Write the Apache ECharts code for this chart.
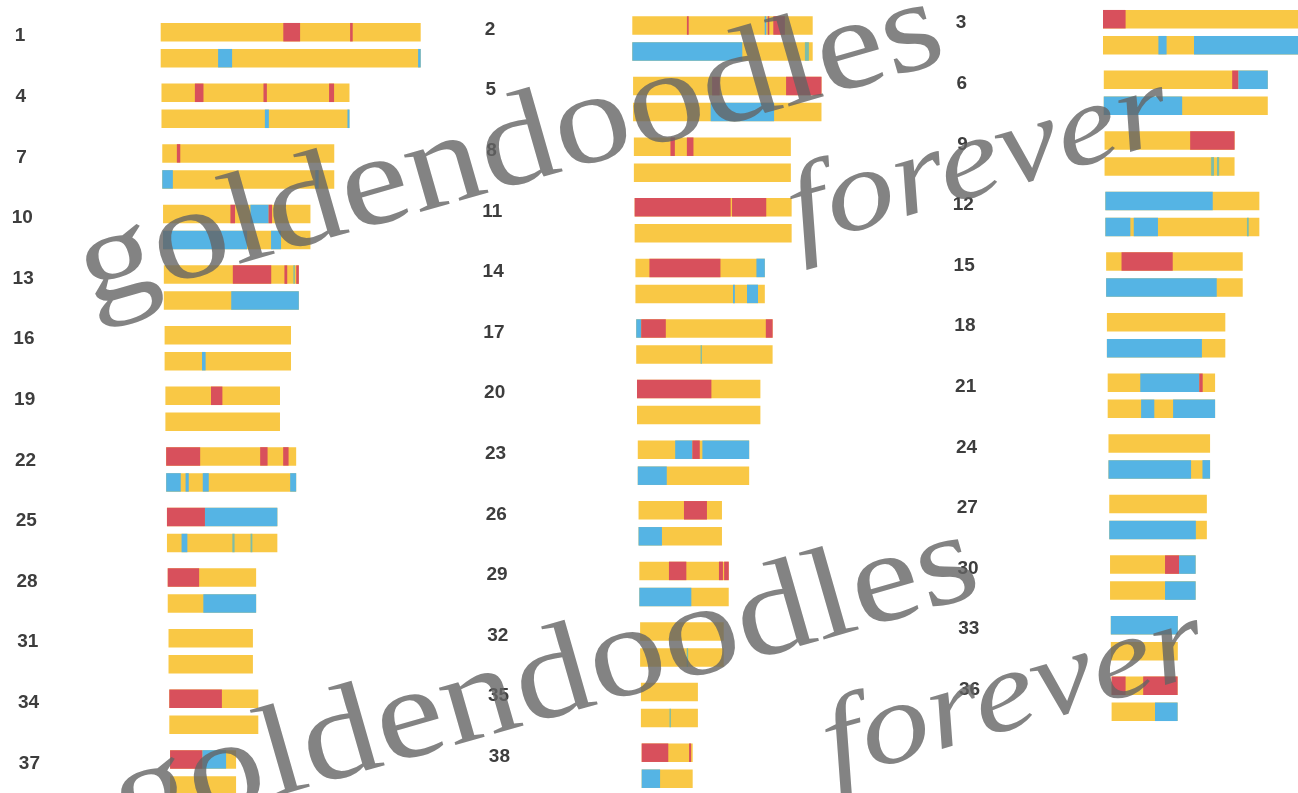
<!DOCTYPE html>
<html><head><meta charset="utf-8">
<script src="https://cdn.jsdelivr.net/npm/echarts@6/dist/echarts.min.js"></script>
<style>html,body{margin:0;padding:0;background:#fff}#c{width:1298px;height:793px}</style>
</head><body><div id="c"></div>
<script>
// Chromosome numbers (categories)
const chromosomes = [1,2,3,4,5,6,7,8,9,10,11,12,13,14,15,16,17,18,19,20,21,22,23,24,25,26,27,28,29,30,31,32,33,34,35,36,37,38];
// Chromosome lengths (Mb, approx.)
const chromLengths = [130,90.2,97.5,94,94.2,82,86,78.5,65,73.7,78.5,77,67.5,64.7,68.3,63.2,68.2,59.2,57.3,61.7,53.7,65,55.7,50.8,55.2,41.7,48.8,44.2,44.7,42.8,42.2,41.8,33.5,44.5,28.5,33,33,25.5];
// Non-yellow ancestry segments on the first (upper) haplotype: [start, end, ancestry]
const topSegments = [
  [[61.3,69.7,'R'],[94.7,96,'R']],
  [[27.3,28.2,'R'],[66.2,67,'B'],[67.7,68.5,'R'],[70.5,76.3,'R']],
  [[0,11.3,'R']],
  [[16.7,21,'R'],[51,52.7,'R'],[83.8,86.3,'R']],
  [[39.5,43.3,'R'],[76.5,94.2,'R']],
  [[64.2,67.3,'R'],[67.3,82,'B']],
  [[7.3,9,'R']],
  [[18.3,20.5,'R'],[26.5,29.8,'R']],
  [[42.8,65,'R']],
  [[33.7,36,'R'],[43.7,52.8,'B'],[52.8,54.5,'R']],
  [[0,48,'R'],[48.7,65.8,'R']],
  [[0,53.7,'B']],
  [[34.5,53.7,'R'],[60.3,61.7,'R'],[64.8,65.5,'G'],[66.2,67.5,'R']],
  [[7,42.5,'R'],[60.5,64.7,'B']],
  [[7.7,33.3,'R']],
  [],
  [[0,2.5,'B'],[2.5,14.8,'R'],[64.8,68.2,'R']],
  [],
  [[22.8,28.5,'R']],
  [[0,37.2,'R']],
  [[16.3,45.8,'B'],[45.8,47.5,'R']],
  [[0,17,'R'],[47,50.7,'R'],[58.5,61.2,'R']],
  [[18.7,27.3,'B'],[27.3,31,'R'],[32.3,55.7,'B']],
  [],
  [[0,19,'R'],[19,55.2,'B']],
  [[22.7,34.2,'R']],
  [],
  [[0,15.7,'R']],
  [[14.8,23.5,'R'],[39.8,41.8,'R'],[42.4,44.7,'R']],
  [[27.5,34.5,'R'],[34.5,42.8,'B']],
  [],
  [],
  [[0,33.5,'B']],
  [[0,26.3,'R']],
  [],
  [[0,7,'R'],[15.8,33,'R']],
  [[0,16.2,'R'],[16.2,28,'B']],
  [[0,13.3,'R'],[23.7,24.7,'R']]
];
// Non-yellow ancestry segments on the second (lower) haplotype
const bottomSegments = [
  [[28.7,35.7,'B'],[128.7,130,'B']],
  [[0,55,'B'],[86.3,88.3,'G']],
  [[27.7,31.8,'B'],[45.5,97.5,'B']],
  [[51.7,53.7,'B'],[93,94,'B']],
  [[38.8,70.5,'B']],
  [[0,39.2,'B']],
  [[0,5.3,'B'],[76.5,78.2,'B']],
  [],
  [[53.3,54.7,'G'],[56.2,57.3,'G']],
  [[0,42,'B'],[54,59,'B']],
  [],
  [[0,12.5,'B'],[14.2,26.3,'B'],[70.8,71.7,'G']],
  [[33.7,67.5,'B']],
  [[48.8,49.7,'B'],[55.8,61.3,'B']],
  [[0,55.3,'B']],
  [[18.7,20.5,'B']],
  [[32.2,32.8,'G']],
  [[0,47.5,'B']],
  [],
  [],
  [[16.7,23.3,'B'],[32.7,53.7,'B']],
  [[0,7.3,'B'],[9.7,11.3,'B'],[18.3,21.3,'B'],[62,65,'B']],
  [[0,14.5,'B']],
  [[0,41.3,'B'],[47,50.8,'B']],
  [[7.3,10.2,'B'],[32.7,33.8,'G'],[41.8,42.7,'G']],
  [[0,11.7,'B']],
  [[0,43.3,'B']],
  [[17.8,44.2,'B']],
  [[0,26,'B']],
  [[27.5,42.8,'B']],
  [],
  [[23.3,24,'G']],
  [],
  [],
  [[14.3,15,'G']],
  [[21.7,33,'B']],
  [],
  [[0,9.2,'B']]
];
const ancestryCodes = ['Y','R','B','G'];
const ancestryColors = ['#F9C845','#D8505C','#55B4E4','#7DBDA8'];
const watermarkWords = ['goldendoodles','forever'];

// ---- layout (styling only) ----
const columns = [
  {left:160.7, width:280, y0:32.2, labelX:20},
  {left:632.3, width:200, y0:25.5, labelX:490},
  {left:1103, width:195, y0:19.2, labelX:961}
];
const PITCH = 60.6, PX_PER_MB = 2, BAR_H = 18.5, HAP_GAP = 26, SHEAR = 0.0129;

const grids = [], xAxes = [], yAxes = [], series = [];
columns.forEach((c, ci) => {
  grids.push({left:c.left, top:0, width:c.width, height:793, outerBoundsMode:'none', containLabel:false});
  xAxes.push({type:'value', gridIndex:ci, min:0, max:c.width/PX_PER_MB, show:false});
  yAxes.push({type:'value', gridIndex:ci, inverse:true, min:-c.y0/PITCH, max:(793-c.y0)/PITCH, show:false});
  const segData = [], labelData = [];
  chromosomes.forEach((chr, i) => {
    if (i % 3 !== ci) return;
    const row = Math.floor(i / 3);
    segData.push([0, chromLengths[i], row, 0, 0]);
    segData.push([0, chromLengths[i], row, 1, 0]);
    topSegments[i].forEach(s => segData.push([s[0], s[1], row, 0, ancestryCodes.indexOf(s[2])]));
    bottomSegments[i].forEach(s => segData.push([s[0], s[1], row, 1, ancestryCodes.indexOf(s[2])]));
    labelData.push([0, row, chr]);
  });
  series.push({
    type:'custom', xAxisIndex:ci, yAxisIndex:ci, clip:false, silent:true,
    data: segData,
    renderItem: function(params, api){
      const s = api.value(0), e = api.value(1), row = api.value(2), hap = api.value(3), col = api.value(4);
      const p0 = api.coord([s, row]), p1 = api.coord([e, row]);
      const shear = (p0[1] - c.y0) * SHEAR;
      const w = Math.max(p1[0] - p0[0], 1.3);
      return {type:'rect', shape:{x:p0[0] + shear, y:p0[1] + hap*HAP_GAP - BAR_H/2, width:w, height:BAR_H},
              style:{fill:ancestryColors[col]}};
    }
  });
  series.push({
    type:'custom', xAxisIndex:ci, yAxisIndex:ci, clip:false, silent:true,
    data: labelData,
    renderItem: function(params, api){
      const row = api.value(1), chr = api.value(2);
      const p = api.coord([0, row]);
      const shear = (p[1] - c.y0) * SHEAR;
      return {type:'text', style:{text:String(chr), x:c.labelX + shear, y:p[1] + 4,
              align:'center', verticalAlign:'middle', font:'bold 19px "Liberation Sans", Arial, sans-serif', fill:'#3d3d3d'}};
    }
  });
});

const ROT = 16 * Math.PI / 180;
const wmFill = 'rgba(100,100,100,0.8)';
function wm(dx, dy){
  return [
    {type:'text', x:80 + dx, y:274 + dy, rotation:ROT, scaleX:1.18, z:100, silent:true,
     style:{text:watermarkWords[0], font:'130px "Liberation Serif", "Times New Roman", serif', fill:wmFill, align:'left', verticalAlign:'middle'}},
    {type:'text', x:790 + dx, y:218 + dy, rotation:ROT, scaleX:1.2, z:100, silent:true,
     style:{text:watermarkWords[1], font:'italic 115px "Liberation Serif", serif', fill:wmFill, align:'left', verticalAlign:'middle'}}
  ];
}

const chart = echarts.init(document.getElementById('c'), null, {renderer:'canvas'});
chart.setOption({
  animation:false,
  backgroundColor:'#ffffff',
  grid:grids, xAxis:xAxes, yAxis:yAxes, series:series,
  graphic:{elements: wm(0,0).concat(wm(35,533))}
});
</script></body></html>
